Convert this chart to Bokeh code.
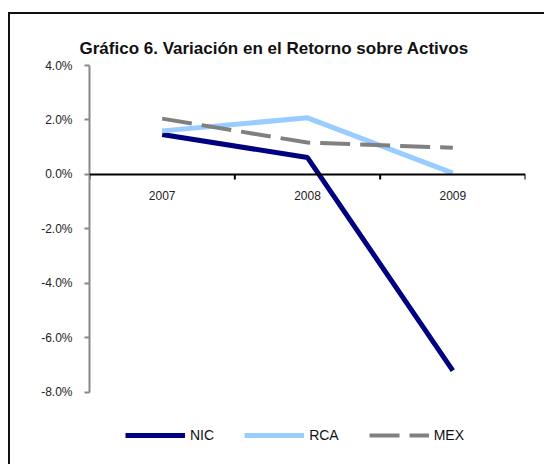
import math
from bokeh.plotting import figure
from bokeh.models import (Range1d, FactorRange, LinearAxis, FixedTicker, PrintfTickFormatter,
                          Legend, LegendItem, Span)
from bokeh.core.properties import value
from bokeh.embed import file_html
from bokeh.resources import INLINE

years = ["2007", "2008", "2009"]
nic = [1.47, 0.62, -7.2]
rca = [1.60, 2.08, 0.05]
mex = [2.05, 1.17, 0.98]
y_ticks = [-8, -6, -4, -2, 0, 2, 4]

FONT = "Liberation Sans"

# the lower part of the y range leaves room for the legend under the axis
p = figure(width=536, height=452, x_range=FactorRange(*years), y_range=Range1d(-10.5, 4),
           output_backend="svg", toolbar_location=None, x_axis_type=None, y_axis_type=None,
           min_border_left=79, min_border_right=21, min_border_top=51, min_border_bottom=6,
           title="Gráfico 6. Variación en el Retorno sobre Activos")
p.styles = {"border-left": "2px solid #111", "border-top": "2px solid #111",
            "margin-top": "12px", "margin-left": "8px"}
p.outline_line_color = None
p.background_fill_color = "white"
p.border_fill_color = "white"

p.title.align = "left"
p.title.offset = -10
p.title.vertical_align = "top"
p.title.standoff = 12
p.title.text_font = FONT
p.title.text_font_style = "bold"
p.title.text_font_size = "17px"
p.title.text_color = "#111"

# y axis
yax = LinearAxis(ticker=FixedTicker(ticks=y_ticks), formatter=PrintfTickFormatter(format="%.1f%%"),
                 bounds=(min(y_ticks), max(y_ticks)))
yax.axis_line_color = "#888"
yax.axis_line_width = 2
yax.major_tick_line_color = "#888"
yax.major_tick_line_width = 2
yax.major_tick_out = 5
yax.major_tick_in = 0
yax.minor_tick_line_color = None
yax.major_label_text_font = FONT
yax.major_label_text_font_size = "12px"
yax.major_label_text_color = "#222"
yax.major_label_standoff = 12
p.add_layout(yax, "left")

# grid
p.ygrid.ticker = FixedTicker(ticks=y_ticks)
p.ygrid.grid_line_color = "#bbbbbb"
p.ygrid.grid_line_width = 1.5
p.xgrid.grid_line_color = None

# horizontal category axis drawn at y = 0
p.add_layout(Span(location=0, dimension="width", line_color="black", line_width=2))
bounds = [(years[0], -0.5)] + [(y, 0.5) for y in years]
p.ray(x=bounds, y=[0] * len(bounds), length=5, length_units="screen",
      angle=-math.pi / 2, line_color="black", line_width=2)
p.text(x=years, y=[0] * len(years), text=years, y_offset=17,
       text_align="center", text_baseline="top", text_font=value(FONT),
       text_font_size="12px", text_color="#222")

r_nic = p.line(years, nic, line_color="#000080", line_width=5)
r_rca = p.line(years, rca, line_color="#99CCFF", line_width=5)
r_mex = p.line(years, mex, line_color="#808080", line_width=4, line_dash="30 10")

legend = Legend(items=[LegendItem(label="NIC", renderers=[r_nic]),
                       LegendItem(label="RCA", renderers=[r_rca]),
                       LegendItem(label="MEX", renderers=[r_mex])],
                orientation="horizontal", location=(36, 15))
legend.glyph_width = 60
legend.label_text_font = FONT
legend.label_text_font_size = "14px"
legend.label_text_color = "#111"
legend.spacing = 30
legend.label_standoff = 5
legend.padding = 10
legend.border_line_color = None
legend.background_fill_alpha = 0
p.add_layout(legend)

open("out.html", "w").write(file_html(p, INLINE))
